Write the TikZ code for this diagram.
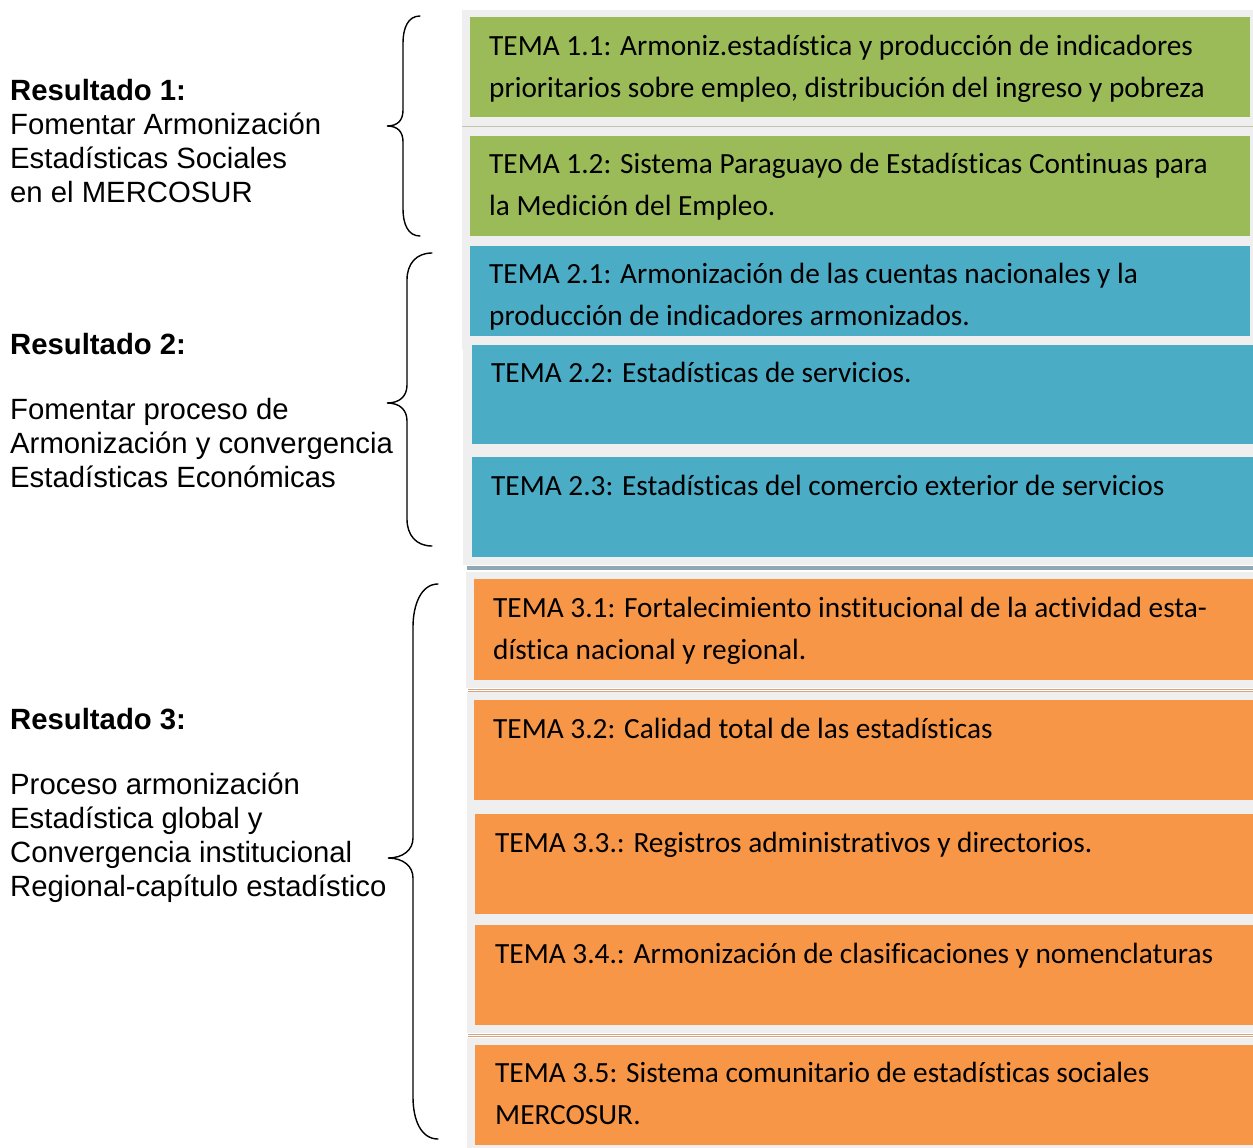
\documentclass[tikz,border=0pt]{standalone}
\usepackage{fontspec}
\setmainfont{Liberation Sans}
\newfontfamily\calibri[Ligatures=NoCommon]{Carlito}
\definecolor{verde}{HTML}{9BBB59}
\definecolor{azul}{HTML}{4BACC6}
\definecolor{naranja}{HTML}{F79646}
\definecolor{fondo}{HTML}{EFEFEF}
\definecolor{sepverde}{HTML}{C2C2AE}
\definecolor{sepazul}{HTML}{8EA9B3}
\definecolor{sepnaranja}{HTML}{D6A47F}
\begin{document}
\begin{tikzpicture}[x=1pt, y=-1pt,
        caja/.style={anchor=north west, inner sep=0, minimum height=100pt},
        tema/.style={anchor=base west, inner sep=0, align=left,
            font=\calibri\fontsize{29.3}{42}\selectfont},
        resultado/.style={anchor=base west, inner sep=0, align=left,
            font=\fontsize{29.3}{33.8}\selectfont},
        llave/.style={line width=1.4pt, line cap=round}]
    \useasboundingbox (0,0) rectangle (1253,1148);

    % Gray backdrop behind the boxes
    \fill[fondo] (462,10) rectangle (1253,350);
    \fill[fondo] (463,340) rectangle (1253,565);
    \fill[fondo] (466,572) rectangle (1253,688);
    \fill[fondo] (467,692) rectangle (1253,1033);
    \fill[fondo] (467,1038) rectangle (1253,1148);

    % Separators
    \draw[sepverde, line width=1.5pt] (462,126.5) -- (1253,126.5);
    \draw[sepazul, line width=3.5pt] (467,568) -- (1253,568);
    \foreach \y in {689, 691, 1034, 1036} {
        \draw[sepnaranja, line width=1pt] (468,\y) -- (1253,\y);
    }

    % Resultado 1 (multi-line texts sit on their last baseline)
    \node[caja, fill=verde, minimum width=780pt] (c11) at (470,17) {};
    \node[caja, fill=verde, minimum width=780pt] (c12) at (470,136) {};
    \node[tema] (t11) at (489,97.5) {TEMA 1.1: Armoniz.estadística y producción de indicadores\\prioritarios sobre empleo, distribución del ingreso y pobreza};
    \node[tema] (t12) at (489,215.5) {TEMA 1.2: Sistema Paraguayo de Estadísticas Continuas para\\la Medición del Empleo.};

    % Resultado 2
    \node[caja, fill=azul, minimum width=780pt, minimum height=90pt] (c21) at (470,246) {};
    \node[caja, fill=azul, minimum width=781pt, minimum height=99pt] (c22) at (472,345) {};
    \node[caja, fill=azul, minimum width=781pt] (c23) at (472,457) {};
    \node[tema] (t21) at (489,325.5) {TEMA 2.1: Armonización de las cuentas nacionales y la\\producción de indicadores armonizados.};
    \node[tema] (t22) at (491,382.5) {TEMA 2.2: Estadísticas de servicios.};
    \node[tema] (t23) at (491,495.5) {TEMA 2.3: Estadísticas del comercio exterior de servicios};

    % Resultado 3
    \node[caja, fill=naranja, minimum width=779pt, minimum height=101pt] (c31) at (474,579) {};
    \node[caja, fill=naranja, minimum width=779pt] (c32) at (474,700) {};
    \node[caja, fill=naranja, minimum width=778pt] (c33) at (475,814) {};
    \node[caja, fill=naranja, minimum width=778pt] (c34) at (475,925) {};
    \node[caja, fill=naranja, minimum width=778pt] (c35) at (475,1045) {};
    \node[tema] (t31) at (493,659.5) {TEMA 3.1: Fortalecimiento institucional de la actividad esta-\\dística nacional y regional.};
    \node[tema] (t32) at (493,738.5) {TEMA 3.2: Calidad total de las estadísticas};
    \node[tema] (t33) at (495,852.5) {TEMA 3.3.: Registros administrativos y directorios.};
    \node[tema] (t34) at (495,963.5) {TEMA 3.4.: Armonización de clasificaciones y nomenclaturas};
    \node[tema] (t35) at (495,1124.5) {TEMA 3.5: Sistema comunitario de estadísticas sociales\\MERCOSUR.};

    % Labels on the left
    \node[resultado] (r1) at (10,202) {\textbf{Resultado 1:}\\Fomentar Armonización\\Estadísticas Sociales\\en el MERCOSUR};
    \node[resultado] (r2) at (10,487) {\textbf{Resultado 2:}\\[31pt]Fomentar proceso de\\Armonización y convergencia\\Estadísticas Económicas};
    \node[resultado] (r3) at (10,896) {\textbf{Resultado 3:}\\[31.5pt]Proceso armonización\\Estadística global y\\Convergencia institucional\\Regional-capítulo estadístico};

    % Braces
    \draw[llave] (420,16) .. controls (408,16) and (403,28) .. (403,43) -- (403,110)
        .. controls (403,120) and (398,126) .. (387,126)
        .. controls (398,126) and (403,132) .. (403,142) -- (403,209)
        .. controls (403,224) and (408,236) .. (420,236);
    \draw[llave] (432,253) .. controls (416,253) and (407,264) .. (407,280) -- (407,385)
        .. controls (407,396) and (400,403) .. (387,403)
        .. controls (400,403) and (407,410) .. (407,421) -- (407,519)
        .. controls (407,535) and (416,546) .. (432,546);
    \draw[llave] (438,584) .. controls (421,584) and (413,605) .. (413,627) -- (413,838)
        .. controls (413,850) and (403,858) .. (388,858)
        .. controls (403,858) and (413,866) .. (413,878) -- (413,1097)
        .. controls (413,1120) and (421,1139) .. (438,1139);
\end{tikzpicture}
\end{document}
